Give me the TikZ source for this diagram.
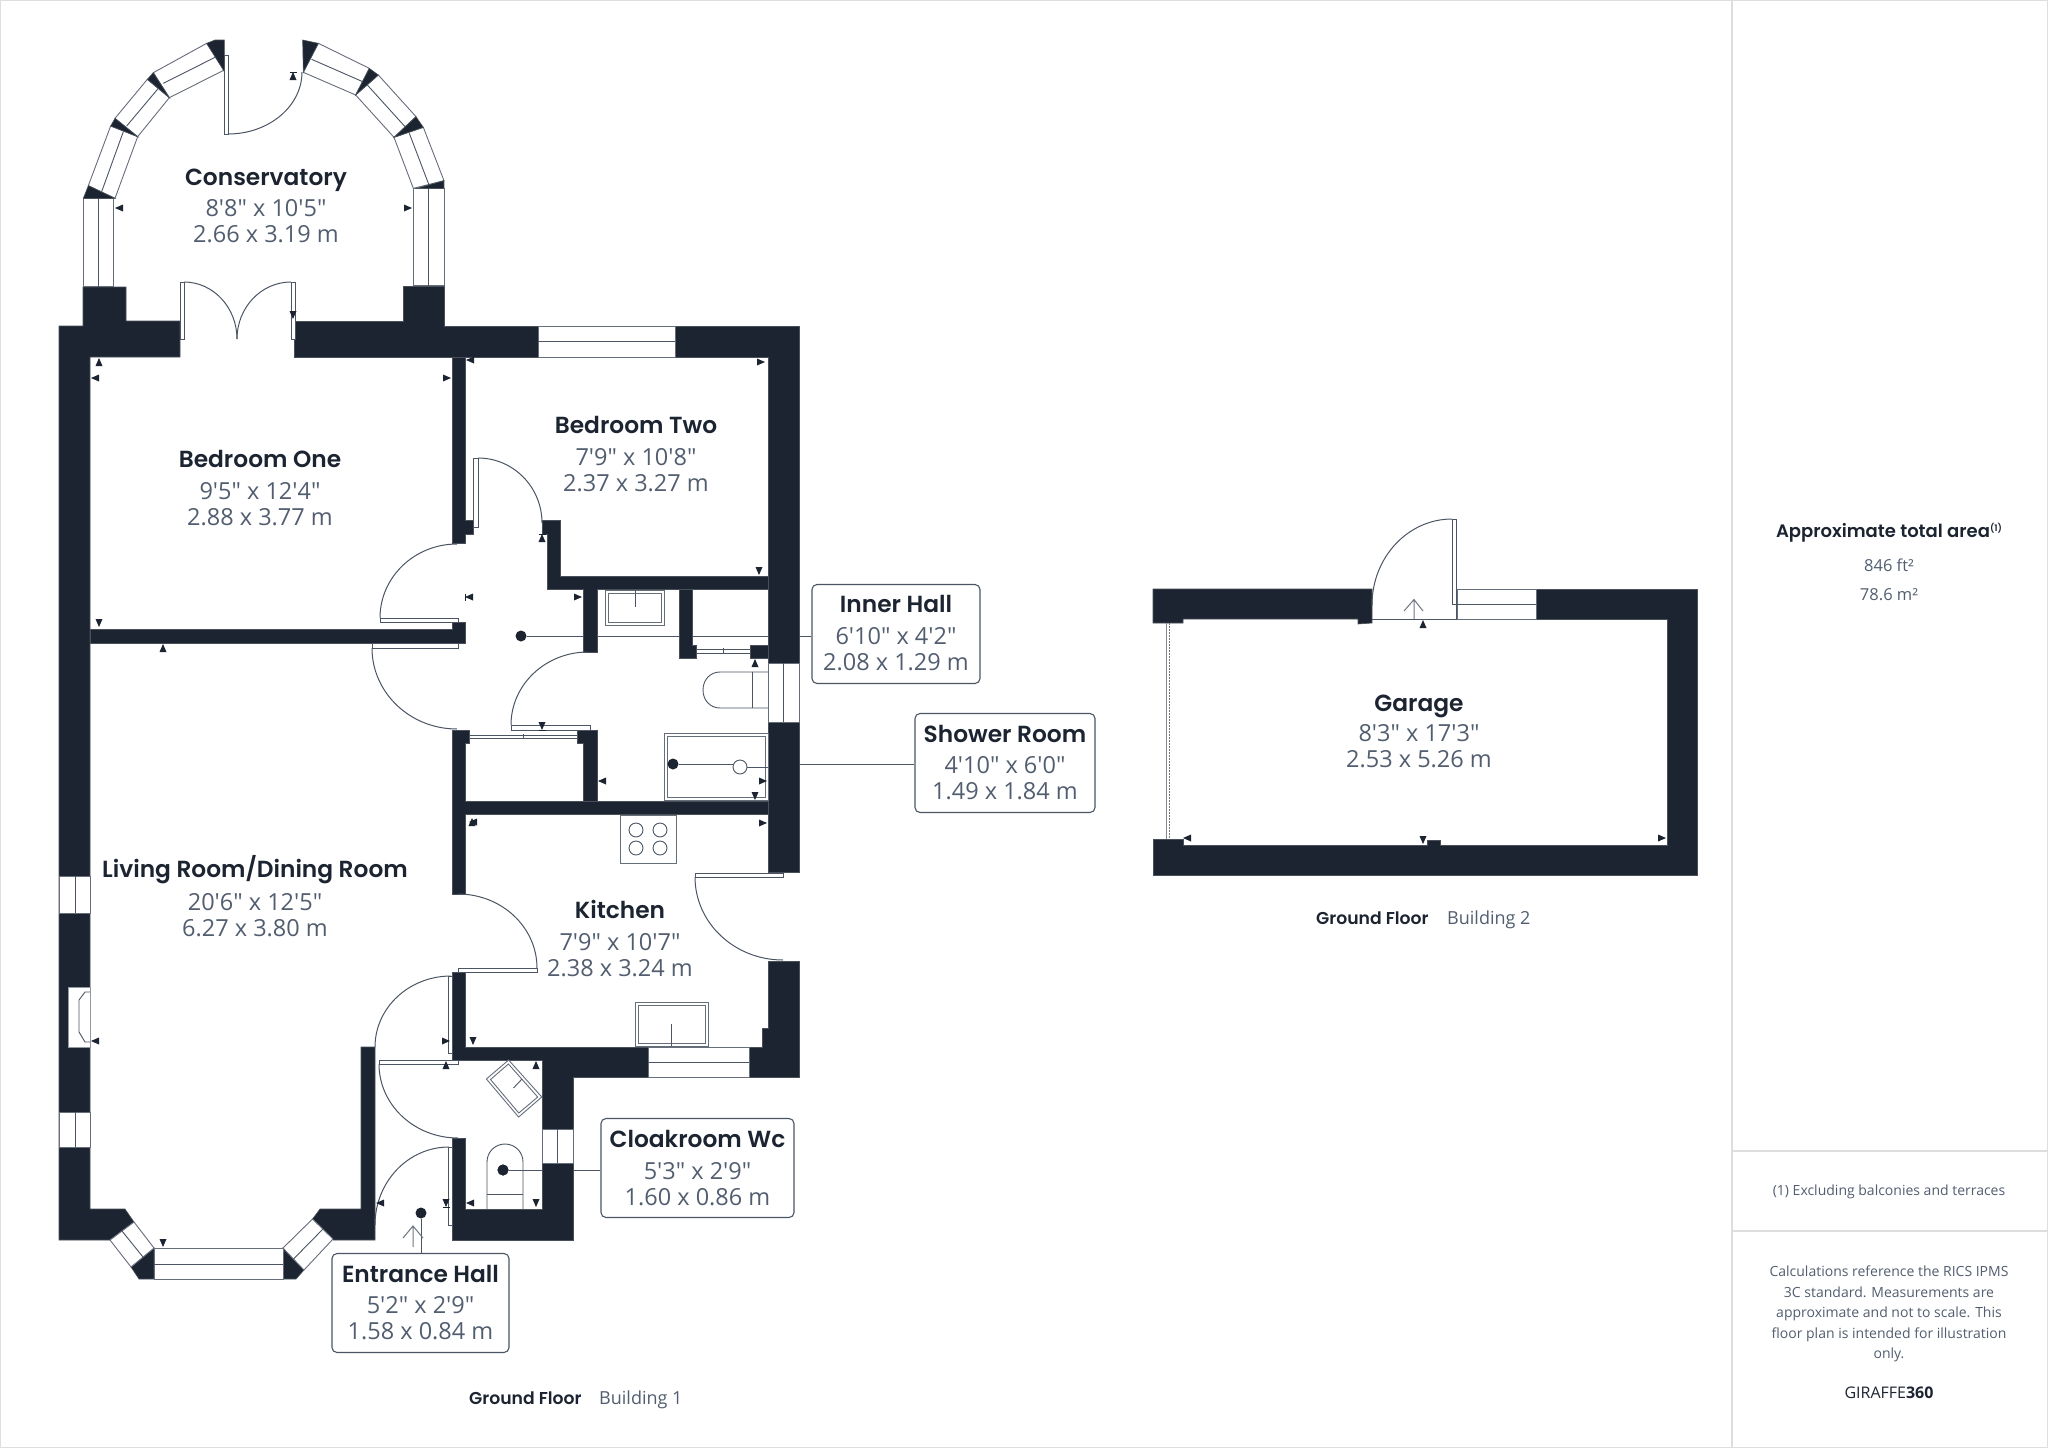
\documentclass[tikz,border=0pt]{standalone}
\usepackage{fontspec}
\newfontfamily\ttl{Poppins SemiBold}
\newfontfamily\val{Open Sans}
\definecolor{wallc}{HTML}{1B2430}
\definecolor{valc}{HTML}{525E70}
\definecolor{linec}{HTML}{4B5563}
\definecolor{framec}{HTML}{DEDEDE}
\tikzset{
  wallfill/.style={fill=wallc,draw=wallc!80!white,line width=.6pt},
  win/.style={fill=white,draw=linec!85!white,line width=.9pt},
  thin line/.style={draw=linec,line width=.9pt},
  leaf/.style={fill=white,draw=linec,line width=.8pt},
  doorarc/.style={draw=linec,line width=1pt},
  fix/.style={fill=white,draw=linec!85!white,line width=.9pt},
  lead/.style={draw=linec,line width=1pt},
  dotn/.style={circle,fill=wallc,inner sep=0pt,minimum size=11pt},
  lab/.style={draw=linec,line width=1.1pt,rounded corners=5pt,fill=white,minimum width=0pt,inner sep=0pt},
  ttlt/.style={anchor=base,inner sep=0pt,text=wallc,font=\ttl\fontsize{23.3}{24}\selectfont},
  valt/.style={anchor=base,inner sep=0pt,text=valc,font=\val\fontsize{23.5}{24}\selectfont},
  smt/.style={anchor=base,inner sep=0pt,text=valc,font=\val\fontsize{14}{16}\selectfont},
  smb/.style={anchor=base,inner sep=0pt,text=wallc,font=\ttl\fontsize{18}{18}\selectfont},
  capb/.style={anchor=base west,inner sep=0pt,text=wallc,font=\ttl\fontsize{17.2}{18}\selectfont},
  capv/.style={anchor=base west,inner sep=0pt,text=valc,font=\val\fontsize{18}{18}\selectfont},
}
\newcommand\room[7]{%
  \node[ttlt] (#1) at (#2,#3+9) {#5};
  \node[valt] (#1-a) at (#2,#4+9) {#6};
  \node[valt] (#1-b) at (#2,#4+9+26.5) {#7};}
\newcommand\mkU[2]{\fill[wallc] (#1,#2-4)--(#1+3.5,#2+4)--(#1-3.5,#2+4)--cycle;}
\newcommand\mkD[2]{\fill[wallc] (#1,#2+4)--(#1+3.5,#2-4)--(#1-3.5,#2-4)--cycle;}
\newcommand\mkL[2]{\fill[wallc] (#1-4,#2)--(#1+4,#2-3.5)--(#1+4,#2+3.5)--cycle;}
\newcommand\mkR[2]{\fill[wallc] (#1+4,#2)--(#1-4,#2-3.5)--(#1-4,#2+3.5)--cycle;}
\newcommand\barH[2]{\draw[wallc,line width=.8pt] (#1-3.5,#2)--(#1+3.5,#2);}
\newcommand\barV[2]{\draw[wallc,line width=.8pt] (#1,#2-3.5)--(#1,#2+3.5);}
\newcommand\dvh[4]{\draw[doorarc] (#1,#2) .. controls ({#1},{#2+.5523*(#4-#2)}) and ({#3-.5523*(#3-#1)},{#4}) .. (#3,#4);}
\newcommand\leafbox[4]{\draw[leaf] (#1,#2) rectangle (#3,#4);}
\newcommand\winbar[4]{\draw[win] (#1,#2) rectangle (#3,#4);}
\begin{document}
\begin{tikzpicture}[x=1pt,y=-1pt]
\useasboundingbox (0,0) rectangle (2048,1448);
\fill[white] (0,0) rectangle (2048,1448);
\draw[framec,line width=1.2pt] (.6,.6) rectangle (2047.4,1447.4);
\draw[framec,line width=1.2pt] (1732,0) -- (1732,1448);
\draw[framec,line width=1.2pt] (1732,1151) -- (2048,1151);
\draw[framec,line width=1.2pt] (1732,1231) -- (2048,1231);

% label boxes and anchor dots, leaders under the walls
\node[lab,minimum width=168pt,minimum height=99pt] (bInner) at (896,634) {};
\node[lab,minimum width=180pt,minimum height=99pt] (bShower) at (1005,763) {};
\node[lab,minimum width=193pt,minimum height=99pt] (bCloak) at (697.5,1168) {};
\node[lab,minimum width=177pt,minimum height=99pt] (bEntr) at (420.5,1303) {};
\node[dotn] (dInner) at (521,636) {};
\node[dotn] (dShower) at (673,764) {};
\node[dotn] (dCloak) at (503,1170) {};
\node[dotn] (dEntr) at (421,1213) {};
\draw[lead] (dInner) -- (dInner -| bInner.west);
\draw[lead] (dShower) -- (dShower -| bShower.west);
\draw[lead] (dCloak) -- (dCloak -| bCloak.west);
\draw[lead] (dEntr) -- (dEntr |- bEntr.north);

% walls
\path[wallfill] (59,326)--(83,326)--(83,287)--(126,287)--(126,321)--(180,321)--(180,357)--(90,357)--(90,1209)--(125,1209)--(134,1222)--(110,1240)--(59,1240)--cycle;
\path[wallfill] (294,321)--(403,321)--(403,286)--(444,286)--(444,326)--(538,326)--(538,357)--(294,357)--cycle;
\path[wallfill] (675,326)--(799,326)--(799,663)--(768,663)--(768,357)--(675,357)--cycle;
\path[wallfill] (768,722)--(799,722)--(799,872)--(768,872)--cycle;
\path[wallfill] (768,961)--(799,961)--(799,1077)--(749,1077)--(749,1047)--(762,1047)--(762,1028)--(768,1028)--cycle;
\path[wallfill] (90,629)--(452,629)--(452,622)--(465,622)--(465,643)--(90,643)--cycle;
\path[wallfill] (452,357)--(465,357)--(465,520)--(473,520)--(473,534)--(465,534)--(465,543)--(452,543)--cycle;
\path[wallfill] (452,730)--(469,730)--(469,743)--(465,743)--(465,801)--(768,801)--(768,814)--(465,814)--(465,894)--(452,894)--cycle;
\path[wallfill] (577,730)--(597,730)--(597,801)--(583,801)--(583,743)--(577,743)--cycle;
\path[wallfill] (542,520)--(560,520)--(560,576)--(768,576)--(768,589)--(597,589)--(597,652)--(583,652)--(583,589)--(547,589)--(547,534)--(542,534)--cycle;
\path[wallfill] (679,589)--(692,589)--(692,645)--(696,645)--(696,658)--(679,658)--cycle;
\path[wallfill] (750,645)--(768,645)--(768,658)--(750,658)--cycle;
\path[wallfill] (452,972)--(465,972)--(465,1047)--(648,1047)--(648,1077)--(573,1077)--(573,1240)--(452,1240)--(452,1138)--(465,1138)--(465,1209)--(542,1209)--(542,1060)--(452,1060)--cycle;
\path[wallfill] (312.5,1219)--(320,1209)--(361,1209)--(361,1047)--(375,1047)--(375,1240)--(333,1240)--cycle;
\path[wallfill] (154,1248)--(131,1267)--(139,1279)--(154,1279)--cycle;
\path[wallfill] (283,1248)--(283,1279)--(296,1279)--(304,1270)--cycle;

% bay windows
\draw[win] (134,1222)--(154,1248)--(131,1267)--(110,1240)--cycle;
\draw[thin line] (122,1231)--(143,1257);
\winbar{154}{1248}{283}{1279}
\draw[thin line] (154,1264)--(283,1264);
\draw[win] (283,1248)--(312.5,1219)--(333,1239)--(304,1270)--cycle;
\draw[thin line] (293.5,1259)--(323,1229);

% straight windows
\winbar{59}{876}{90}{913} \draw[thin line] (75,876)--(75,913);
\winbar{59}{1112}{90}{1147} \draw[thin line] (75,1112)--(75,1147);
\winbar{538}{326}{675}{357} \draw[thin line] (538,341)--(675,341);
\winbar{768}{663}{799}{722} \draw[thin line] (783,663)--(783,722);
\winbar{648}{1047}{749}{1077} \draw[thin line] (648,1062)--(749,1062);
\winbar{542}{1129}{573}{1163} \draw[thin line] (557,1129)--(557,1163);

% fireplace
\fill[white,draw=linec!60!white,line width=.6pt] (68,987) rectangle (90,1047);
\draw[thin line] (90,992)--(85,992)--(79,1000)--(79,1032)--(85,1042)--(90,1042);

% conservatory (coordinates as read on the enlarged crop)
\begin{scope}[x=.33333pt,y=-.33333pt,shift={(40pt,-20pt)}]
\draw[win] (130,535) rectangle (221,800); \draw[thin line] (176,535)--(176,800);
\draw[win] (1120,505) rectangle (1212,797); \draw[thin line] (1166,505)--(1166,797);
\draw[win] (145,497)--(212,318)--(293,350)--(225,535)--cycle; \draw[thin line] (185,515)--(250,335);
\draw[win] (225,295)--(322,178)--(388,233)--(293,350)--cycle; \draw[thin line] (260,318)--(355,205);
\draw[win] (340,158)--(500,70)--(553,150)--(388,233)--cycle; \draw[thin line] (370,190)--(525,112);
\draw[win] (835,70)--(988,145)--(947,225)--(790,157)--cycle; \draw[thin line] (815,118)--(968,185);
\draw[win] (1015,165)--(1128,290)--(1062,352)--(947,225)--cycle; \draw[thin line] (982,195)--(1095,320);
\draw[win] (1150,322)--(1212,482)--(1120,505)--(1062,352)--cycle; \draw[thin line] (1108,340)--(1167,495);
\path[wallfill] (130,535)--(145,497)--(225,535)--cycle;
\path[wallfill] (212,318)--(225,295)--(293,350)--cycle;
\path[wallfill] (322,178)--(340,158)--(388,233)--cycle;
\path[wallfill] (500,70)--(525,60)--(553,60)--(553,155)--cycle;
\path[wallfill] (788,60)--(835,70)--(790,157)--cycle;
\path[wallfill] (988,145)--(1015,165)--(947,225)--cycle;
\path[wallfill] (1128,290)--(1150,322)--(1062,352)--cycle;
\path[wallfill] (1212,482)--(1212,505)--(1130,505)--cycle;
\end{scope}

% doors
\leafbox{224}{55}{228}{134} \dvh{302}{72}{228}{134}
\leafbox{180}{282}{184}{339} \leafbox{291}{282}{295}{339}
\dvh{237}{339}{184}{282} \dvh{237}{339}{291}{282}
\leafbox{473}{458}{478}{527} \dvh{542}{523}{478}{458}
\leafbox{380}{618}{458}{622} \dvh{380}{618}{457}{544}
\leafbox{372}{643}{458}{648} \dvh{372}{648}{457}{729}
\leafbox{511}{725}{590}{730} \dvh{511}{725}{588}{652}
\leafbox{458}{968}{537}{972} \dvh{537}{968}{458}{894}
\leafbox{695}{873}{783}{877} \dvh{695}{877}{783}{960}
\leafbox{448}{976}{452}{1053} \dvh{375}{1047}{451}{976}
\leafbox{379}{1060}{458}{1064} \dvh{379}{1064}{458}{1138}
\leafbox{448}{1147}{452}{1225} \dvh{375}{1225}{449}{1147}
% sliding doors
\draw[leaf] (469,735) rectangle (577,738); \draw[thin line] (523,734)--(523,739);
\draw[leaf] (696,649) rectangle (750,653); \draw[thin line] (723,648)--(723,654);

% shower room fittings
\draw[fix] (605,590) rectangle (664,625); \draw[fix] (608,593) rectangle (661,622); \draw[thin line] (635,590)--(635,607);
\draw[thin line] (768,672)--(720,672) .. controls (710,672) and (703,680) .. (703,690) .. controls (703,700) and (710,708) .. (720,708)--(768,708);
\draw[thin line] (752,672)--(752,708);
\draw[fix] (664,733) rectangle (768,800); \draw[fix] (667,736) rectangle (765,797);
\draw[thin line] (740,767) circle (7);
\draw[thin line] (747,767)--(768,767);
\node[dotn] at (dShower) {};
\draw[lead] (dShower) -- (733,764);

% kitchen fittings
\draw[fix] (620,815) rectangle (676,863);
\draw[thin line] (636,830) circle (7) (660,830) circle (7) (636,848) circle (7) (660,848) circle (7);
\draw[fix] (635,1002) rectangle (708,1046); \draw[fix] (638,1005) rectangle (705,1043); \draw[thin line] (671,1024)--(671,1046);

% cloakroom fittings
\draw[fix] (486.4,1079)--(508.6,1060)--(541.8,1097)--(518.6,1117)--cycle;
\draw[fix] (490.5,1079.5)--(508.4,1064)--(537.7,1097)--(518.8,1113)--cycle;
\draw[thin line] (522,1079)--(513.5,1088);
\draw[thin line] (487,1209)--(487,1162) .. controls (487,1152) and (495,1144) .. (505,1144) .. controls (515,1144) and (523,1152) .. (523,1162)--(523,1209);
\draw[thin line] (487,1194)--(523,1194);
\node[dotn] at (dCloak) {};

% entrance arrow
\draw[draw=linec!80!white,line width=1pt] (413,1247)--(413,1227) (403,1238)--(413,1226)--(423,1238);

% dimension marks
\mkL{119}{208} \mkR{408}{208} \mkU{293}{76} \barH{293}{72} \mkD{293}{315}
\mkU{99}{362} \mkL{95}{378} \mkL{470}{360} \mkR{447}{378}
\mkD{99}{623} \mkU{163}{648} \mkR{761}{362} \mkD{759}{571}
\mkU{542}{538} \barH{542}{534} \mkL{469}{597} \barV{465}{597} \mkR{578}{597} \mkD{542}{726} \barH{542}{730}
\mkU{755}{663} \mkL{602}{781} \mkR{763}{781} \mkD{755}{796}
\mkL{473}{822} \mkU{472}{822} \mkR{763}{823} \mkD{473}{1041}
\mkL{95}{1041} \mkR{446}{1041} \mkU{446}{1065} \mkU{536}{1065}
\mkL{380}{1203} \mkD{446}{1203} \barH{446}{1207} \mkL{470}{1203} \mkD{536}{1203} \mkD{163}{1243}
\mkU{1423}{624} \mkL{1187}{838} \mkD{1423}{840} \mkR{1662}{838}

% garage
\path[wallfill] (1153,589)--(1372,589)--(1372,623)--(1358,624)--(1358,619)--(1183,619)--(1183,623)--(1153,623)--cycle;
\path[wallfill] (1536,589)--(1697,589)--(1697,875)--(1153,875)--(1153,839)--(1183,839)--(1183,845)--(1427,845)--(1427,840)--(1440,840)--(1440,845)--(1667,845)--(1667,619)--(1536,619)--cycle;
\winbar{1457}{589}{1536}{619} \draw[thin line] (1457,604)--(1536,604);
\draw[thin line] (1372,619)--(1457,619);
\draw[leaf] (1452,519) rectangle (1456.5,604);
\draw[thin line] (1456.5,604)--(1456.5,619);
\dvh{1372}{605}{1452}{519}
\draw[linec!80!white,line width=1pt] (1414,619)--(1414,600) (1404,611)--(1414,599.5)--(1423,611);
\draw[linec!70!white,line width=1pt] (1166,623)--(1166,839);
\draw[linec!80!white,line width=1.2pt,dash pattern=on 1.5pt off 1.5pt] (1169.5,623)--(1169.5,839);

% room texts
\room{rCons}{266}{176}{207}{Conservatory}{8'8" x 10'5"}{2.66 x 3.19 m}
\room{rBed1}{260}{458.5}{490}{Bedroom One}{9'5" x 12'4"}{2.88 x 3.77 m}
\room{rBed2}{636}{424.5}{456}{Bedroom Two}{7'9" x 10'8"}{2.37 x 3.27 m}
\room{rLiv}{255}{868.5}{901}{Living Room/Dining Room}{20'6" x 12'5"}{6.27 x 3.80 m}
\room{rKit}{620}{909}{941}{Kitchen}{7'9" x 10'7"}{2.38 x 3.24 m}
\room{rGar}{1419}{702}{732}{Garage}{8'3" x 17'3"}{2.53 x 5.26 m}
\room{rInner}{896}{603}{635}{Inner Hall}{6'10" x 4'2"}{2.08 x 1.29 m}
\room{rShower}{1005}{733}{764}{Shower Room}{4'10" x 6'0"}{1.49 x 1.84 m}
\room{rCloak}{697.5}{1138}{1170}{Cloakroom Wc}{5'3" x 2'9"}{1.60 x 0.86 m}
\room{rEntr}{420.5}{1273}{1304}{Entrance Hall}{5'2" x 2'9"}{1.58 x 0.84 m}

% captions
\node[capb] (cap1) at (469,1404.5) {Ground Floor};
\node[capv] (cap1b) at (599,1404.5) {Building 1};
\node[capb] (cap2) at (1316,924.5) {Ground Floor};
\node[capv] (cap2b) at (1447,924.5) {Building 2};

% side panel
\node[smb] (pTitle) at (1889,537) {Approximate total area\raisebox{6pt}{\fontsize{9}{9}\selectfont(1)}};
\node[valt,font=\val\fontsize{16.5}{18}\selectfont] (pA) at (1889,571) {846 ft²};
\node[valt,font=\val\fontsize{16.5}{18}\selectfont] (pB) at (1889,600) {78.6 m²};
\node[smt] (pNote) at (1889,1195) {(1) Excluding balconies and terraces};
\node[smt] (pL1) at (1889,1276) {Calculations reference the RICS IPMS};
\node[smt] (pL2) at (1889,1297) {3C standard. Measurements are};
\node[smt] (pL3) at (1889,1317) {approximate and not to scale. This};
\node[smt] (pL4) at (1889,1338) {floor plan is intended for illustration};
\node[smt] (pL5) at (1889,1358) {only.};
\node[smt,text=wallc,font=\val\fontsize{16}{16}\selectfont] (pLogo) at (1889,1398.5) {GIRAFFE\textbf{360}};
\end{tikzpicture}
\end{document}
